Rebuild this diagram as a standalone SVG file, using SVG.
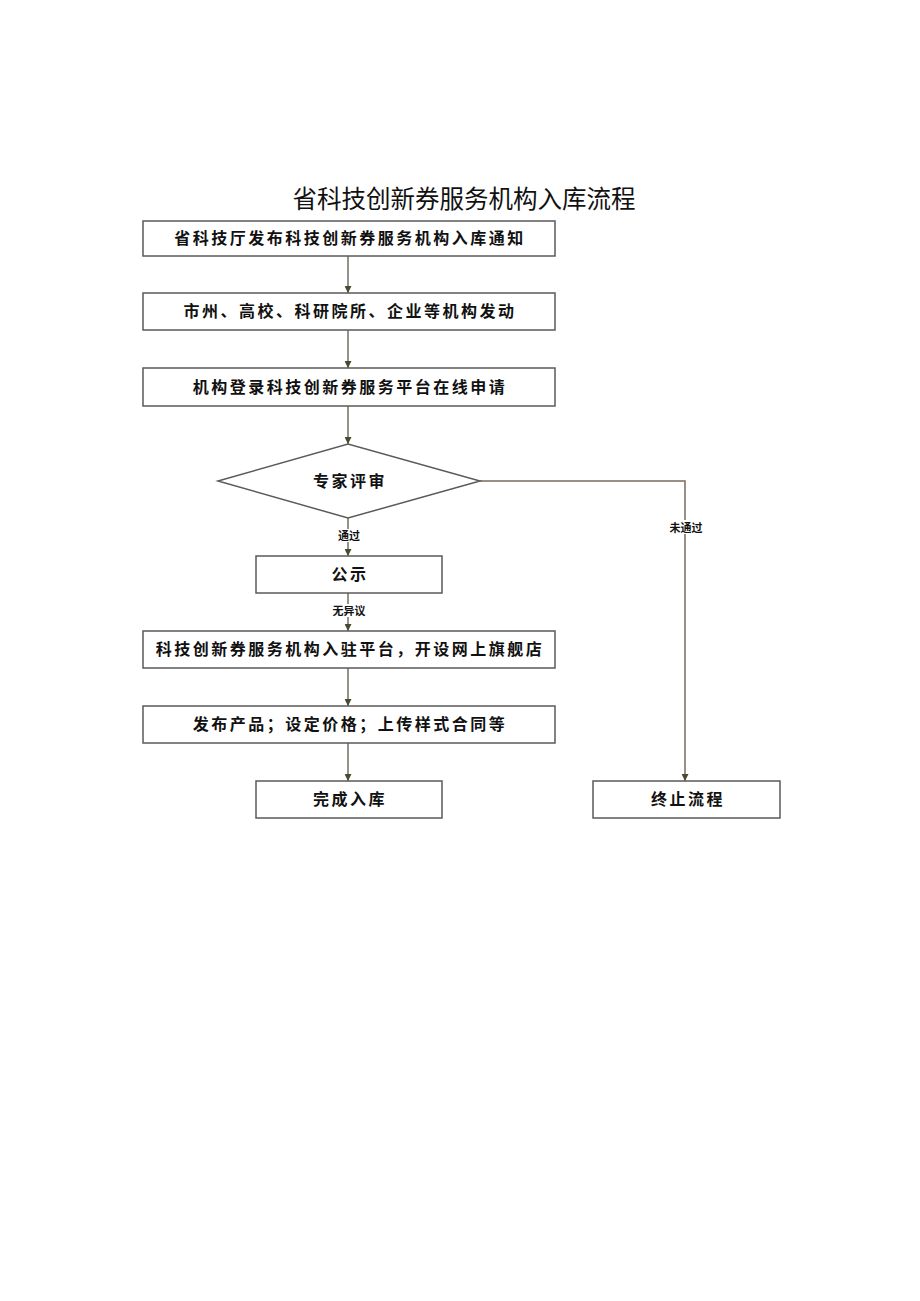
<svg xmlns="http://www.w3.org/2000/svg" width="920" height="1301" viewBox="0 0 920 1301">
<defs>
<marker id="arr" viewBox="0 0 10 10" refX="10" refY="5" markerWidth="7" markerHeight="7" markerUnits="userSpaceOnUse" orient="auto">
<path d="M0,0 L10,5 L0,10 z" fill="#4a4a30"/>
</marker>
<style>
.box{fill:#fff;stroke:#5a5a5a;stroke-width:1.5}
.t{font-family:"Noto Sans CJK SC","Noto Sans",sans-serif;font-size:16px;font-weight:700;fill:#111;text-anchor:middle;letter-spacing:2.5px}
.lbl{font-family:"Noto Sans CJK SC","Noto Sans",sans-serif;font-size:11px;font-weight:700;fill:#111;text-anchor:middle}
.c{fill:none;stroke:#707060;stroke-width:1.5}
.title{font-family:"Noto Sans CJK SC","Noto Sans",sans-serif;font-size:24.5px;fill:#111;text-anchor:middle}
</style>
</defs>
<rect width="920" height="1301" fill="#fff"/>
<text class="title" x="464" y="208">省科技创新券服务机构入库流程</text>

<g id="connectors">
<line class="c" x1="348" y1="256" x2="348" y2="293" marker-end="url(#arr)"/>
<line class="c" x1="348" y1="330" x2="348" y2="368" marker-end="url(#arr)"/>
<line class="c" x1="348" y1="406" x2="348" y2="444" marker-end="url(#arr)"/>
<line class="c" x1="348" y1="518" x2="348" y2="556" marker-end="url(#arr)"/>
<line class="c" x1="348" y1="593" x2="348" y2="631" marker-end="url(#arr)"/>
<line class="c" x1="348" y1="668" x2="348" y2="706" marker-end="url(#arr)"/>
<line class="c" x1="348" y1="743" x2="348" y2="781" marker-end="url(#arr)"/>
<path class="c" d="M480,481 H685 V781" style="stroke:#7a6a60" marker-end="url(#arr)"/>
<rect x="340" y="529" width="18" height="13" fill="#fff"/>
<text class="lbl" x="349" y="540">通过</text>
<rect x="331" y="604" width="36" height="13" fill="#fff"/>
<text class="lbl" x="349" y="615">无异议</text>
<rect x="667" y="520" width="38" height="14" fill="#fff"/>
<text class="lbl" x="686" y="532">未通过</text>
</g>

<g id="n1"><rect class="box" x="143" y="221" width="412" height="35"/><text class="t" x="350" y="244">省科技厅发布科技创新券服务机构入库通知</text></g>
<g id="n2"><rect class="box" x="143" y="293" width="412" height="37"/><text class="t" x="350" y="317">市州、高校、科研院所、企业等机构发动</text></g>
<g id="n3"><rect class="box" x="143" y="368" width="412" height="38"/><text class="t" x="350" y="393">机构登录科技创新券服务平台在线申请</text></g>
<g id="n4"><polygon class="box" points="218,481 348,444 480,481 348,518"/><text class="t" x="350" y="487">专家评审</text></g>
<g id="n5"><rect class="box" x="256" y="556" width="186" height="37"/><text class="t" x="350" y="580">公示</text></g>
<g id="n6"><rect class="box" x="143" y="631" width="412" height="37"/><text class="t" x="350" y="655">科技创新券服务机构入驻平台，开设网上旗舰店</text></g>
<g id="n7"><rect class="box" x="143" y="706" width="412" height="37"/><text class="t" x="350" y="730">发布产品；设定价格；上传样式合同等</text></g>
<g id="n8"><rect class="box" x="256" y="781" width="186" height="37"/><text class="t" x="350" y="805">完成入库</text></g>
<g id="n9"><rect class="box" x="593" y="781" width="187" height="37"/><text class="t" x="688" y="805">终止流程</text></g>
</svg>
